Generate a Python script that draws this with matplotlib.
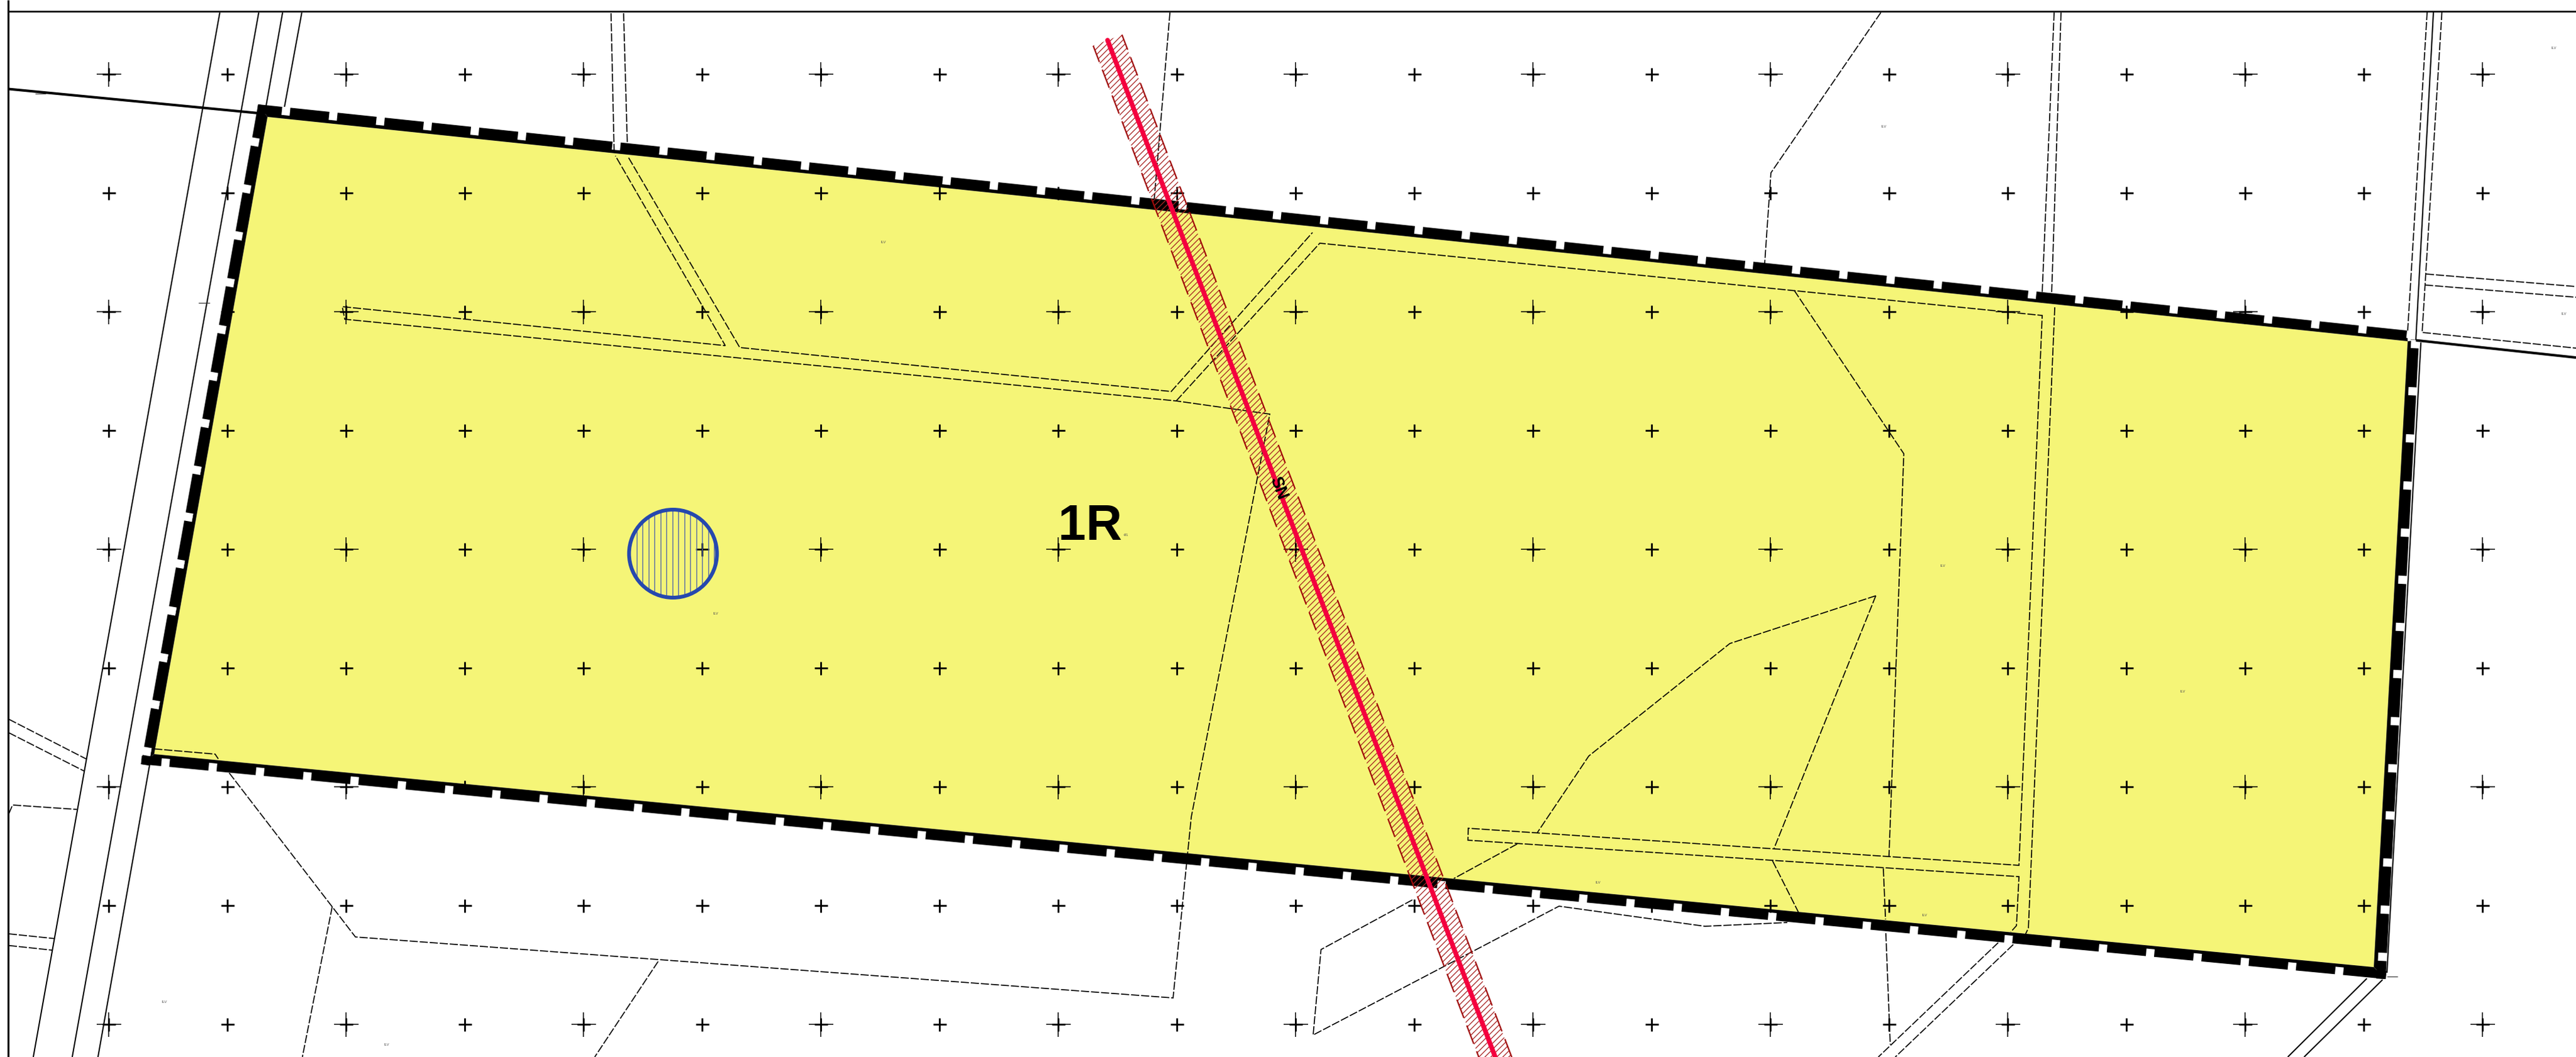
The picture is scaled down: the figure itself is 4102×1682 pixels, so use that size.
import numpy as np
import matplotlib
matplotlib.use("Agg")
import matplotlib.pyplot as plt
from matplotlib.collections import LineCollection, PolyCollection
from matplotlib.patches import Polygon, Circle

# ---------- map data, in the drawing's own sheet units (y down) ----------
grid_x = [173, 362, 551, 740, 929, 1118, 1307, 1496, 1685, 1874, 2063, 2252, 2441,
          2630, 2819, 3008, 3197, 3386, 3575, 3764, 3953]
grid_y = [118, 307, 496, 685, 874, 1063, 1252, 1441, 1630]

inner_corners = [(426, 186), (3834, 543), (3780, 1539), (245.5, 1200)]
outer_corners = [(411, 166), (3852, 541), (3799, 1558), (224.5, 1216)]
top_edge_end = [(3834, 543), (3833, 526)]

top_gaps = np.arange(456, 3800, 75.15)
right_gaps = np.arange(548, 1540, 75.0)
bottom_gaps = np.arange(263, 3760, 75.25)
left_gaps = np.arange(225, 1200, 74.6)

frame_left = [(13, 0), (13, 1682)]
frame_top = [(13, 18), (4102, 18)]
boundary_west = [(13, 141.5), (411, 180)]
boundary_east = [(3847, 541.5), (4102, 569)]

solid_roads = [
    [(350, 20), (53, 1682)],
    [(412, 20), (115, 1682)],
    [(450, 20), (156, 1682)],
    [(480.6, 20), (453, 170)],
    [(3875, 19), (3847, 541)],
    [(3855, 545), (3801, 1548)],
    [(3769, 1557), (3643, 1682)],
    [(3794, 1559), (3669, 1682)],
]

short_ticks = [
    [(56, 149), (73, 149)],
    [(316, 482), (334, 482)],
    [(3801, 1554), (3818, 1554)],
    [(1035, 255), (1050, 256)],
    [(2012, 362), (2033, 364)],
]

dashed_roads = [
    [(14, 1144.5), (137, 1207.6)],
    [(14, 1166), (134, 1227)],
    [(14, 1295), (20, 1281), (122.4, 1288)],
    [(14, 1486), (86, 1493.5)],
    [(14, 1504.6), (83, 1512)],
    [(245.5, 1191.7), (342.5, 1200), (347.6, 1207.6)],
    [(365, 1230), (566, 1491), (1868, 1588), (1897, 1300), (2022, 659), (1873, 638), (549, 508),
     (545, 488), (1155, 550), (980, 248)],
    [(529, 1443), (481.5, 1682)],
    [(1048, 1530), (947, 1682)],
    [(973, 21), (978, 245)],
    [(993, 21), (999, 231.5)],
    [(1001, 251), (1178, 553), (1865, 623), (2090, 370)],
    [(1873, 638), (2101.6, 387), (3252, 502), (3215, 1377), (2338, 1318), (2337.5, 1337),
     (3215, 1395), (3211, 1473), (3202, 1483)],
    [(3182, 1500), (2991, 1682)],
    [(3206, 1503), (3018, 1682)],
    [(3282, 20), (3267, 468)],
    [(3272, 489), (3230, 1477), (3225.6, 1486)],
    [(3271, 20), (3252, 465)],
    [(2857, 462), (3031.6, 722), (3008, 1363)],
    [(2999, 1382), (3002.5, 1463)],
    [(3003, 1485), (3010, 1662)],
    [(2987, 948), (2825, 1350)],
    [(2822.6, 1370), (2864, 1452)],
    [(2987, 948), (2754.6, 1024), (2530, 1203), (2448, 1325)],
    [(2416, 1343), (2315, 1398)],
    [(2249, 1432), (2103.6, 1511), (2091, 1647), (2482.6, 1442), (2715, 1474), (2846, 1468)],
    [(1863, 20), (1837.5, 323)],
    [(2995, 20), (2820, 275), (2810, 420)],
    [(3865, 19), (3834, 526)],
    [(3888.5, 19), (3857, 529), (4102, 554)],
    [(3863, 436), (4102, 456)],
    [(3861.6, 453.5), (4102, 473)],
]

pipeline = [(1763.7, 64), (2381, 1682)]
pipeline_label = "SN"
pipeline_label_at = (2035, 777)

zone_label = "1R"
zone_label_at = (1736, 859)

well_centre = (1071.7, 881)
well_radius = 70

small_labels = ["ILV", "ILV", "ILV", "ILV", "ILV", "ILV", "ILV", "ILV", "ILV", "ILV", "ILV", "4/1"]
small_label_at = [(4066.6, 76.5), (4083, 499), (3094, 900), (3475.5, 1100), (262, 1594),
                  (616, 1662), (2545, 1404), (3065, 1456), (1140, 976), (1407, 385), (3000, 201),
                  (1793, 851)]

# ---------- styling ----------
PX = 0.72  # one pixel in points at dpi=100
YELLOW = "#F5F577"
RED = "#F4003E"
DARK_RED = "#A00808"
BLUE = "#2648AE"

plt.rcParams["lines.scale_dashes"] = False
plt.rcParams["font.family"] = ["Liberation Sans", "DejaVu Sans"]

fig = plt.figure(figsize=(41.02, 16.82), dpi=100, facecolor="white")
ax = fig.add_axes([0, 0, 1, 1])
ax.set_xlim(0, 4102)
ax.set_ylim(1682, 0)
ax.axis("off")


def xy(points):
    arr = np.asarray(points, dtype=float)
    return arr[:, 0], arr[:, 1]


# frame and boundary lines
for seg, w in [(frame_left, 3.2), (frame_top, 2.8)]:
    ax.plot(*xy(seg), color="#111111", lw=w * PX, solid_capstyle="butt", zorder=1)
for seg in (boundary_west, boundary_east):
    ax.plot(*xy(seg), color="black", lw=4 * PX, solid_capstyle="butt", zorder=1)
for seg in solid_roads:
    ax.plot(*xy(seg), color="black", lw=2 * PX, solid_capstyle="butt", zorder=1)
for seg in short_ticks:
    ax.plot(*xy(seg), color="#333333", lw=1.2 * PX, solid_capstyle="butt", zorder=1)

# zoned parcel
ax.add_patch(Polygon(inner_corners, closed=True, fc=YELLOW, ec="none", zorder=2))

for seg in dashed_roads:
    ax.plot(*xy(seg), color="black", lw=1.7 * PX, linestyle=(0, (13 * PX, 3 * PX)),
            dash_joinstyle="miter", zorder=3)

# grid crosses: every node gets the short cross, alternate nodes a long thin one too
nodes_x, nodes_y = np.meshgrid(grid_x, grid_y)
ax.plot(nodes_x.ravel(), nodes_y.ravel(), ls="none", marker="+", ms=21 * PX, mew=2.8 * PX,
        color="black", zorder=4)
ax.plot(nodes_x[::2, ::2].ravel(), nodes_y[::2, ::2].ravel(), ls="none", marker="+", ms=39 * PX,
        mew=1.5 * PX, color="black", zorder=4)


# parcel border: solid inner part, outer part broken by gaps square to the edge
def border_edge(i0, i1, o0, o1, gaps, axis):
    i0, i1, o0, o1 = (np.asarray(p, dtype=float) for p in (i0, i1, o0, o1))
    unit = (i1 - i0) / np.hypot(*(i1 - i0))

    def outer(t):
        return o0 + (o1 - o0) * t

    def foot(p):
        return i0 + unit * np.dot(p - i0, unit)

    quads = []
    start, end = o0[axis], o1[axis]
    half = 6.5
    limits = [start] + [v for g in gaps for v in (g - half, g + half)] + [end]
    for a, b in zip(limits[::2], limits[1::2]):
        ta, tb = (a - start) / (end - start), (b - start) / (end - start)
        ta, tb = max(ta, 0), min(tb, 1)
        if tb > ta:
            pa, pb = outer(ta), outer(tb)
            quads.append([pa, pb, pb + 0.75 * (foot(pb) - pb), pa + 0.75 * (foot(pa) - pa)])
    # solid inner strip, mitred into the corners
    quads.append([i0, i1, i1 + 0.3 * (o1 - i1), i0 + 0.3 * (o0 - i0)])
    return quads


I, O = inner_corners, outer_corners
quads = []
quads += border_edge(I[0], top_edge_end[0], O[0], top_edge_end[1], top_gaps, 0)
quads += border_edge(I[1], I[2], O[1], O[2], right_gaps, 1)
quads += border_edge(I[3], I[2], O[3], O[2], bottom_gaps, 0)
quads += border_edge(I[0], I[3], O[0], O[3], left_gaps, 1)
ax.add_collection(PolyCollection(quads, facecolors="black", edgecolors="none", zorder=5))

# pipeline easement: hatch clipped to the strip, dashed edges
p0, p1 = map(np.asarray, pipeline)
direction = (p1 - p0) / np.hypot(*(p1 - p0))
normal = np.array([direction[1], -direction[0]])
half_width = 24.5
strip = [p0 + normal * half_width, p1 + normal * half_width + direction * 40,
         p1 - normal * half_width + direction * 40, p0 - normal * half_width]
clip = Polygon(strip, closed=True, transform=ax.transData, fc="none", ec="none")
ax.add_patch(clip)
offsets = np.arange(1700, 4200, 9.5)
hatch = LineCollection([[(c, 0), (c - 1700, 1700)] for c in offsets], colors="#A82424",
                       linewidths=1.3 * PX, zorder=6)
ax.add_collection(hatch)
hatch.set_clip_path(clip)
ax.plot(*xy([strip[0], strip[1]]), color=DARK_RED, lw=2.2 * PX,
        linestyle=(5.5 * PX, (31 * PX, 13 * PX)), zorder=6)
ax.plot(*xy([strip[3], strip[2]]), color=DARK_RED, lw=2.2 * PX,
        linestyle=(3.3 * PX, (31 * PX, 13 * PX)), zorder=6)
ax.plot(*xy(pipeline), color=RED, lw=7.5 * PX, solid_capstyle="round", zorder=7)
ax.text(*pipeline_label_at, pipeline_label, rotation=-69, rotation_mode="anchor",
        ha="center", va="center", fontsize=27 * PX, fontweight="bold", color="black", zorder=8)

# well with vertical hatching
well = Circle(well_centre, well_radius, fc="none", ec=BLUE, lw=6 * PX, zorder=6)
ax.add_patch(well)
hatch_x = np.arange(1014, 1140, 9.47)
well_hatch = LineCollection([[(x, 780), (x, 980)] for x in hatch_x], colors="#5468A8",
                            linewidths=1.4 * PX, zorder=5.5)
ax.add_collection(well_hatch)
well_hatch.set_clip_path(Circle(well_centre, well_radius, transform=ax.transData))

# texts
ax.text(*zone_label_at, zone_label, ha="center", va="baseline", fontsize=79.5 * PX,
        fontweight="bold", color="black", zorder=8)
for label, (x, y) in zip(small_labels, small_label_at):
    ax.text(x, y, label, ha="center", va="center", fontsize=6 * PX, color="#555555", zorder=8)

fig.savefig("out.png", dpi=100, facecolor="white")
